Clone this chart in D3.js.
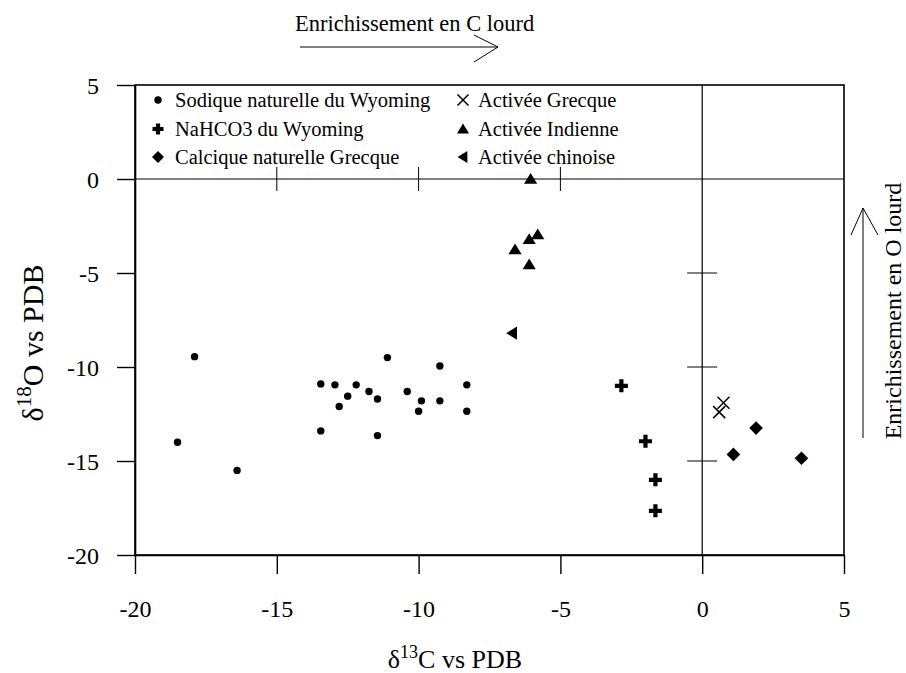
<!DOCTYPE html>
<html>
<head>
<meta charset="utf-8">
<script src="https://cdn.jsdelivr.net/npm/d3@7"></script>
<style>
  body { margin: 0; background: #fff; }
  svg { font-family: "Liberation Serif", "Times New Roman", serif; }
</style>
</head>
<body>
<div id="chart"></div>
<script>
"use strict";

// Data (delta13C, delta18O)
var sodiqueWyoming = [
    [-17.9, -9.45], [-18.5, -14.0], [-16.4, -15.5], [-13.45, -10.9], [-12.95, -10.95],
    [-12.2, -10.95], [-12.5, -11.55], [-12.8, -12.1], [-11.75, -11.3], [-11.45, -11.7],
    [-11.1, -9.5], [-13.45, -13.4], [-11.45, -13.65], [-10.4, -11.3], [-9.9, -11.8],
    [-10.0, -12.35], [-9.25, -9.95], [-9.25, -11.8], [-8.3, -10.95], [-8.3, -12.35]
]
var nahco3Wyoming = [[-2.85, -11.0], [-2.0, -13.95], [-1.65, -16.0], [-1.65, -17.65]]
var calciqueGrecque = [[1.9, -13.25], [1.1, -14.65], [3.5, -14.85]]
var activeeGrecque = [[0.75, -11.9], [0.6, -12.4]]
var activeeIndienne = [[-6.05, 0.0], [-5.8, -2.95], [-6.1, -3.2], [-6.6, -3.75], [-6.1, -4.55]]
var activeeChinoise = [[-6.7, -8.2]]

var xTicks = [-20, -15, -10, -5, 0, 5]
var yTicks = [5, 0, -5, -10, -15, -20]
var innerXTicks = [-15, -10, -5]
var innerYTicks = [-5, -10, -15]

var legendLeft = ["Sodique naturelle du Wyoming", "NaHCO3 du Wyoming", "Calcique naturelle Grecque"]
var legendRight = ["Activée Grecque", "Activée Indienne", "Activée chinoise"]

var width = 906
var height = 673
var margin = { top: 85, right: 62, bottom: 118, left: 135 }

var svg = d3.select('#chart').append('svg')
    .attr('width', width)
    .attr('height', height)

var x = d3.scaleLinear().domain([-20, 5]).range([margin.left, width - margin.right])
var y = d3.scaleLinear().domain([-20, 5]).range([height - margin.bottom, margin.top])

// frame
svg.append('rect')
    .attr('x', x(-20))
    .attr('y', y(5))
    .attr('width', x(5) - x(-20))
    .attr('height', y(-20) - y(5))
    .attr('fill', 'none')
    .attr('stroke', '#000')
    .attr('stroke-width', 1.6)

// Axes
var xAxis = svg.append('g')
    .attr('transform', 'translate(0,' + y(-20) + ')')
    .call(d3.axisBottom(x).tickValues(xTicks).tickSize(19).tickSizeOuter(0).tickPadding(26).tickFormat(d => String(d)))
var yAxis = svg.append('g')
    .attr('transform', 'translate(' + x(-20) + ',0)')
    .call(d3.axisLeft(y).tickValues(yTicks).tickSize(18).tickSizeOuter(0).tickPadding(18).tickFormat(d => String(d)))

;[xAxis, yAxis].forEach(function (g) {
    g.select('.domain').attr('stroke-width', 1.6)
    g.selectAll('.tick line').attr('stroke-width', 1.4)
    g.selectAll('.tick text')
        .attr('font-family', '"Liberation Serif", "Times New Roman", serif')
        .attr('font-size', 24)
        .attr('fill', '#000')
})
yAxis.selectAll('.tick text').attr('dy', '0.34em')

// zero lines with their own ticks
svg.append('line')
    .attr('x1', x(-20)).attr('x2', x(5))
    .attr('y1', y(0)).attr('y2', y(0))
    .attr('stroke', '#000').attr('stroke-width', 1.2)
svg.append('line')
    .attr('x1', x(0)).attr('x2', x(0))
    .attr('y1', y(5)).attr('y2', y(-20))
    .attr('stroke', '#000').attr('stroke-width', 1.2)

svg.selectAll('.innerx')
    .data(innerXTicks)
    .enter()
    .append('line')
    .attr('x1', d => x(d)).attr('x2', d => x(d))
    .attr('y1', y(0) - 12).attr('y2', y(0) + 12)
    .attr('stroke', '#000').attr('stroke-width', 1)

svg.selectAll('.innery')
    .data(innerYTicks)
    .enter()
    .append('line')
    .attr('x1', x(0) - 15).attr('x2', x(0) + 15)
    .attr('y1', d => y(d)).attr('y2', d => y(d))
    .attr('stroke', '#000').attr('stroke-width', 1)

// Marker drawing helpers
function drawCircle(g, cx, cy, r) {
    g.append('circle').attr('cx', cx).attr('cy', cy).attr('r', r).attr('fill', '#000')
}
function drawPlus(g, cx, cy, s) {
    g.append('path')
        .attr('d', 'M' + (cx - s) + ',' + cy + 'H' + (cx + s) + 'M' + cx + ',' + (cy - s) + 'V' + (cy + s))
        .attr('stroke', '#000').attr('stroke-width', 4.2).attr('fill', 'none')
}
function drawDiamond(g, cx, cy, s) {
    g.append('path')
        .attr('d', 'M' + cx + ',' + (cy - s) + 'L' + (cx + s) + ',' + cy + 'L' + cx + ',' + (cy + s) + 'L' + (cx - s) + ',' + cy + 'Z')
        .attr('fill', '#000')
}
function drawCross(g, cx, cy, s) {
    g.append('path')
        .attr('d', 'M' + (cx - s) + ',' + (cy - s) + 'L' + (cx + s) + ',' + (cy + s) + 'M' + (cx - s) + ',' + (cy + s) + 'L' + (cx + s) + ',' + (cy - s))
        .attr('stroke', '#000').attr('stroke-width', 1.5).attr('fill', 'none')
}
function drawTriUp(g, cx, cy, s) {
    g.append('path')
        .attr('d', 'M' + cx + ',' + (cy - s) + 'L' + (cx + s * 1.1) + ',' + (cy + s * 0.8) + 'L' + (cx - s * 1.1) + ',' + (cy + s * 0.8) + 'Z')
        .attr('fill', '#000')
}
function drawTriLeft(g, cx, cy, s) {
    g.append('path')
        .attr('d', 'M' + (cx - s) + ',' + cy + 'L' + (cx + s * 0.8) + ',' + (cy - s * 1.1) + 'L' + (cx + s * 0.8) + ',' + (cy + s * 1.1) + 'Z')
        .attr('fill', '#000')
}

var marks = svg.append('g')
sodiqueWyoming.forEach(d => drawCircle(marks, x(d[0]), y(d[1]), 3.7))
nahco3Wyoming.forEach(d => drawPlus(marks, x(d[0]), y(d[1]), 6.5))
calciqueGrecque.forEach(d => drawDiamond(marks, x(d[0]), y(d[1]), 6.8))
activeeGrecque.forEach(d => drawCross(marks, x(d[0]), y(d[1]), 6))
activeeIndienne.forEach(d => drawTriUp(marks, x(d[0]), y(d[1]), 6))
activeeChinoise.forEach(d => drawTriLeft(marks, x(d[0]), y(d[1]), 6))

// Legend
var legend = svg.append('g')
var rowY = [100, 129, 157]
var leftMarkers = [
    (g, cx, cy) => drawCircle(g, cx, cy, 3.7),
    (g, cx, cy) => drawPlus(g, cx, cy, 5.5),
    (g, cx, cy) => drawDiamond(g, cx, cy, 6)
]
var rightMarkers = [
    (g, cx, cy) => drawCross(g, cx, cy, 5.5),
    (g, cx, cy) => drawTriUp(g, cx, cy, 5.5),
    (g, cx, cy) => drawTriLeft(g, cx, cy, 5.5)
]
legendLeft.forEach(function (label, i) {
    leftMarkers[i](legend, 158, rowY[i])
    legend.append('text')
        .text(label)
        .attr('x', 175)
        .attr('y', rowY[i])
        .attr('dy', '0.33em')
        .attr('font-size', 20.5)
})
legendRight.forEach(function (label, i) {
    rightMarkers[i](legend, 463, rowY[i])
    legend.append('text')
        .text(label)
        .attr('x', 478)
        .attr('y', rowY[i])
        .attr('dy', '0.33em')
        .attr('font-size', 20.5)
})

// Axis titles
var xTitle = svg.append('text')
    .attr('x', 455)
    .attr('y', 668)
    .attr('text-anchor', 'middle')
    .attr('font-size', 26)
xTitle.append('tspan').text('δ')
xTitle.append('tspan').text('13').attr('font-size', 18).attr('dy', -10)
xTitle.append('tspan').text('C vs PDB').attr('dy', 10)

var yTitle = svg.append('text')
    .attr('transform', 'translate(43,343) rotate(-90)')
    .attr('text-anchor', 'middle')
    .attr('font-size', 30)
yTitle.append('tspan').text('δ')
yTitle.append('tspan').text('18').attr('font-size', 21).attr('dy', -12)
yTitle.append('tspan').text('O vs PDB').attr('dy', 12)

// Annotation arrows
svg.append('text')
    .text('Enrichissement en C lourd')
    .attr('x', 295)
    .attr('y', 31)
    .attr('font-size', 22.5)
svg.append('path')
    .attr('d', 'M300,47H498M474,35L498,47L474,62')
    .attr('stroke', '#000').attr('stroke-width', 1).attr('fill', 'none')

svg.append('text')
    .text('Enrichissement en O lourd')
    .attr('transform', 'translate(901,311) rotate(-90)')
    .attr('text-anchor', 'middle')
    .attr('font-size', 24)
svg.append('path')
    .attr('d', 'M863,438V208M851,235L863,208L878,235')
    .attr('stroke', '#000').attr('stroke-width', 1).attr('fill', 'none')
</script>
</body>
</html>
